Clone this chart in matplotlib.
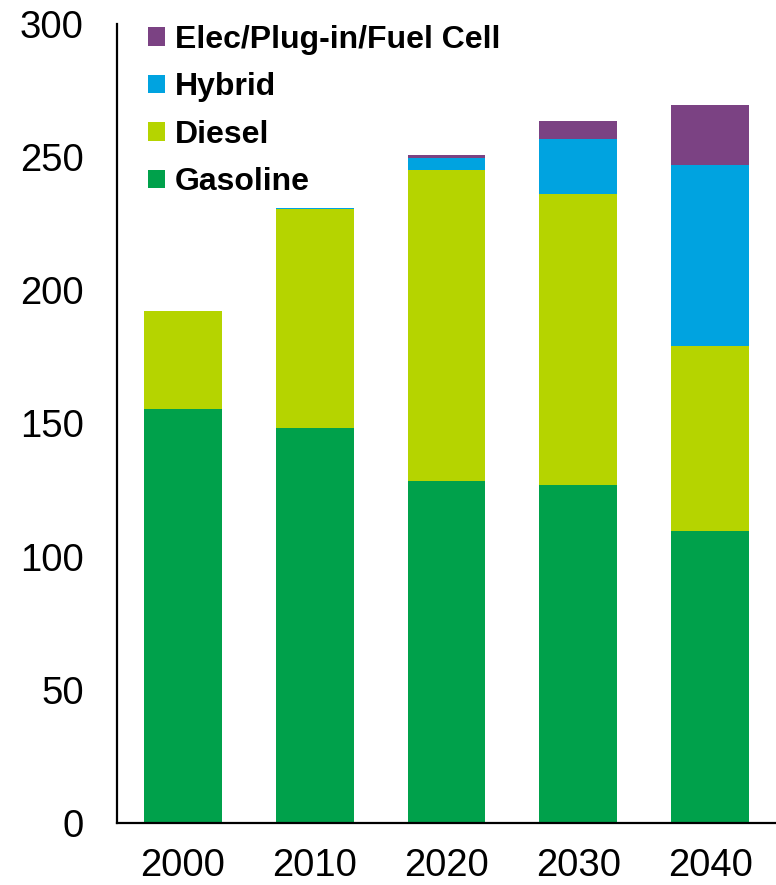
import numpy as np
import matplotlib.pyplot as plt

plt.rcParams['font.family'] = ['Liberation Sans', 'DejaVu Sans']

years = ['2000', '2010', '2020', '2030', '2040']
gasoline = [155.6, 148.3, 128.5, 127.0, 109.8]
diesel = [36.8, 82.3, 116.7, 109.1, 69.1]
hybrid = [0.0, 0.3, 4.4, 20.6, 68.2]
elec = [0.0, 0.0, 1.1, 6.8, 22.6]

names = ['Gasoline', 'Diesel', 'Hybrid', 'Elec/Plug-in/Fuel Cell']
colors = ['#00A14B', '#B5D400', '#00A3E0', '#7B4283']

fig = plt.figure(figsize=(7.76, 8.85), dpi=100)
ax = fig.add_axes([0.1508, 0.070, 0.8492, 0.903])

x = np.arange(len(years))
bottom = np.zeros(len(years))
handles = []
for vals, name, c in zip([gasoline, diesel, hybrid, elec], names, colors):
    vals = np.array(vals)
    b = ax.bar(x, vals, width=0.59, bottom=bottom, color=c, label=name)
    handles.append(b)
    bottom += vals

ax.set_xlim(-0.5, 4.5)
ax.set_ylim(0, 300)
ax.set_yticks(np.arange(0, 301, 50))
ax.set_xticks(x)
ax.set_xticklabels(years)
ax.tick_params(axis='both', length=0, labelsize=27.5)
ax.tick_params(axis='y', pad=24)
ax.tick_params(axis='x', pad=18)

for s in ['top', 'right']:
    ax.spines[s].set_visible(False)
for s in ['left', 'bottom']:
    ax.spines[s].set_linewidth(1.6)
    ax.spines[s].set_color('black')

leg = ax.legend(handles[::-1], names[::-1], loc='upper left',
                bbox_to_anchor=(0.004, 1.035), frameon=False,
                prop={'weight': 'bold', 'size': 23},
                handlelength=0.53, handleheight=0.53, handletextpad=0.3,
                labelspacing=0.55)

fig.savefig('out.png', dpi=100)
